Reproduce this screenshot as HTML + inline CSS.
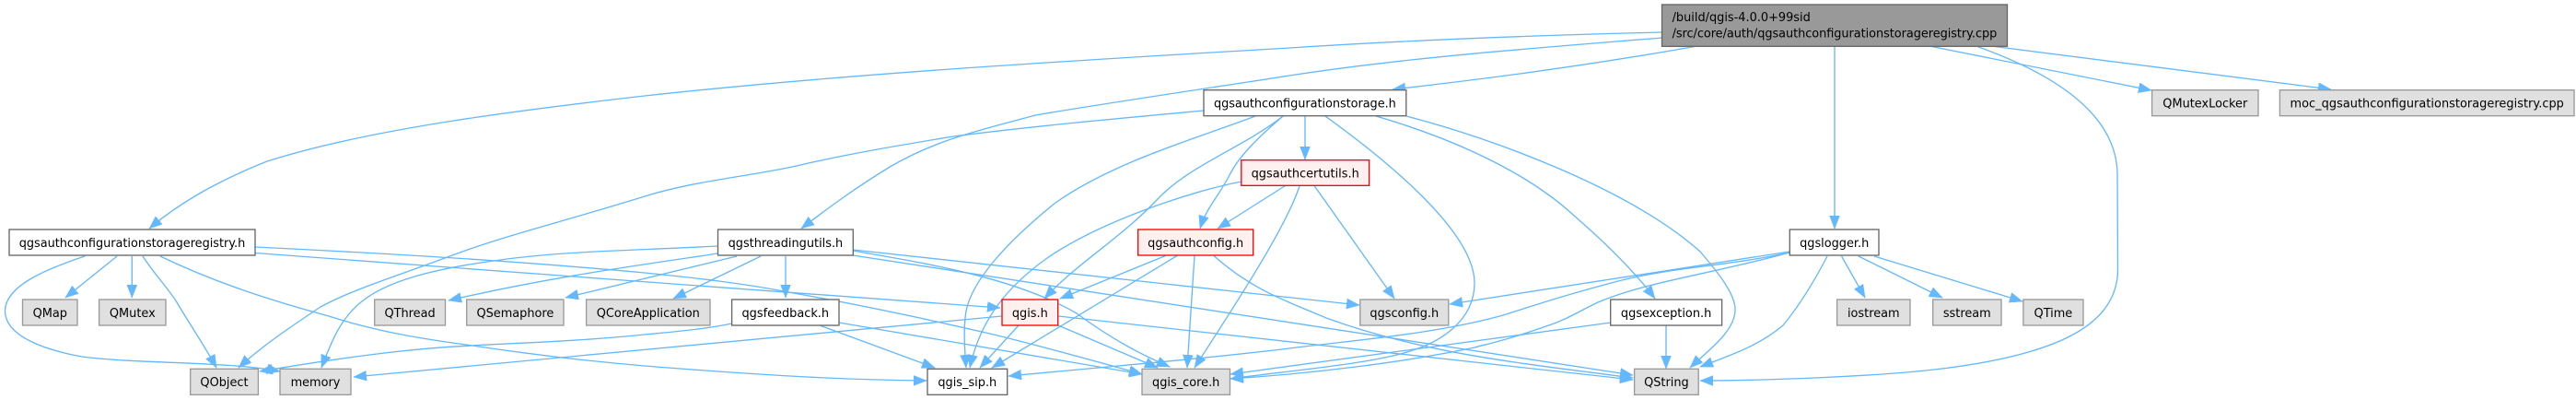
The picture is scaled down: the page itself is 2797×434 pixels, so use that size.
<!DOCTYPE html>
<html>
<head>
<meta charset="utf-8">
<style>
html,body{margin:0;padding:0;background:#fff;width:2797px;height:434px;overflow:hidden}
svg{display:block}
text{font-family:"DejaVu Sans","Liberation Sans",sans-serif;font-size:12.9px;fill:#000;text-anchor:middle}
.e path,.e line{fill:none;stroke:#63b8ff;stroke-width:1.33;marker-end:url(#a)}
.w{fill:#fff;stroke:#666;stroke-width:1.33}
.g{fill:#e0e0e0;stroke:#999;stroke-width:1.33}
.r{fill:#fff0f0;stroke:#f00;stroke-width:1.33}
.k{fill:#999;stroke:#666;stroke-width:1.33}
</style>
</head>
<body>
<svg width="2797" height="434" viewBox="0 0 2797 434" xmlns="http://www.w3.org/2000/svg">
<defs>
<marker id="a" markerUnits="userSpaceOnUse" markerWidth="16" markerHeight="12" refX="14" refY="5.5" orient="auto">
<path d="M0,0 L14,5.5 L0,11 Z" fill="#63b8ff" stroke="#63b8ff" stroke-width="0.5"/>
</marker>
</defs>

<g class="e">
<!-- root -->
<path d="M1804.5,35 C1680,38 1540,43 1400,52 C1160,66 920,80 700,104 C560,120 400,140 290,175 C235,197 195,220 162,248"/>
<path d="M1804.5,41 C1670,52 1530,62 1400,82 C1330,93 1200,112 1124,125 C1070,140 1020,150 968,180 C930,203 900,225 870,248"/>
<path d="M1840,50.5 C1730,70 1620,85 1512,97"/>
<path d="M1992,50.5 L1992,248"/>
<path d="M2095,50 L2336,98"/>
<path d="M2162,50 L2531,97"/>
<path d="M2147,50.5 C2210,73 2299,115 2299,190 L2299.5,293 C2299,350 2240,385 2100,401 C2040,408 1920,413 1846,413"/>
<!-- storage -->
<path d="M1307,120 C1220,128 1120,137 1035,148 C975,158 920,167 865,180 C810,192 755,196 700,213 C620,238 550,255 491,277 C430,300 385,313 348,333 C315,355 285,375 259,399"/>
<path d="M1363,126 C1300,150 1210,175 1146,220 C1090,265 1050,310 1048,345 C1046,365 1048,385 1049,399"/>
<path d="M1393,126 C1350,160 1290,180 1256,217 C1215,260 1170,285 1134,324"/>
<path d="M1393,126 C1365,150 1345,170 1335,190 C1322,215 1310,225 1303,248"/>
<path d="M1417,126 L1417,173"/>
<path d="M1439,126 C1500,170 1601,250 1601,307 C1601,350 1560,372 1534,380 C1490,395 1400,402 1336,411"/>
<path d="M1494,126 C1560,145 1650,180 1708,233 C1745,265 1775,295 1797,324"/>
<path d="M1527,126 C1620,150 1770,205 1846,273 C1865,295 1885,320 1884,337 C1883,360 1855,380 1835,399"/>
<!-- certutils -->
<path d="M1348,197 C1295,207 1195,240 1137,280 C1095,310 1065,345 1053,399"/>
<path d="M1395.5,201.5 L1322,248"/>
<path d="M1411,202 C1395,250 1335,340 1297,399"/>
<path d="M1427,201.5 L1514,324"/>
<!-- authconfig -->
<path d="M1265.5,277.5 L1151,324"/>
<path d="M1278,277.5 L1077,399"/>
<path d="M1297,277.5 L1289,399"/>
<path d="M1318,277.5 C1360,315 1400,328 1440,345 C1550,385 1660,395 1773,410"/>
<!-- registry -->
<path d="M92,278 C50,292 6,310 5.5,337 C5,365 50,380 89,387 C150,395 250,392 304,403"/>
<path d="M127,278 L71,323"/>
<path d="M143.3,278 L143.3,323"/>
<path d="M155,278 C168,298 182,312 192,328 C208,355 222,375 235,399"/>
<path d="M174,278 C230,305 290,325 357,343 C410,360 460,368 513,375 C580,385 640,392 700,397 C800,405 900,412 1006,413"/>
<path d="M277,268 C420,275 560,283 700,296 C760,302 810,308 856,317 C930,330 1010,347 1079,363 C1140,378 1190,392 1240,406"/>
<path d="M277,274.5 C500,292 850,316 1086,334"/>
<!-- threadingutils -->
<path d="M779,267 C690,272 610,272 536,283 C470,292 420,305 393,327 C370,345 360,370 349,399"/>
<path d="M779.5,275 C700,287 600,300 487,326"/>
<path d="M800,278 L614,323"/>
<path d="M826,278 L731,324"/>
<path d="M853,278 L853,323"/>
<path d="M926,271 L1476,331"/>
<path d="M926,272 C1000,285 1100,300 1169,340 C1210,370 1240,385 1270,398"/>
<path d="M926,277 L1773,407"/>
<!-- feedback -->
<path d="M795,351 C760,358 730,360 700,363 C620,371 560,372 513,375 C440,378 360,390 282,403"/>
<path d="M890,353 L1015,399"/>
<path d="M911,350 L1240,406"/>
<!-- qgis.h -->
<path d="M1088,343 L384,409"/>
<path d="M1106,353 L1064,399"/>
<path d="M1149,353 L1257,399"/>
<path d="M1149,343 L1773,412"/>
<!-- exception -->
<path d="M1809,353 L1809,400"/>
<path d="M1749,350 L1336,406"/>
<!-- logger -->
<path d="M1943,273 L1574,330"/>
<path d="M1943,274 C1880,288 1815,290 1757,305 C1700,320 1670,330 1632,342 C1560,362 1480,368 1400,378 C1300,390 1200,398 1095,408"/>
<path d="M1943,274 C1860,297 1790,305 1735,328 C1710,340 1710,342 1690,350 C1640,368 1620,372 1601,377 C1530,392 1430,405 1336,411"/>
<path d="M1984,278 C1970,305 1955,330 1936,353 C1910,375 1880,385 1846,398"/>
<path d="M1999.6,278 L2025,323"/>
<path d="M2018,278 L2109,323"/>
<path d="M2035,278 L2196,327"/>
</g>

<!-- root -->
<rect class="k" x="1804.5" y="5" width="375" height="45.3"/>
<text x="1815.6" y="23" style="text-anchor:start">/build/qgis-4.0.0+99sid</text>
<text x="1815.6" y="40.5" style="text-anchor:start" textLength="352.7">/src/core/auth/qgsauthconfigurationstorageregistry.cpp</text>

<!-- row 98-126 -->
<rect class="w" x="1307" y="97.7" width="219.8" height="28"/><text x="1416.9" y="116.5" textLength="197.8">qgsauthconfigurationstorage.h</text>
<rect class="g" x="2336.6" y="97.7" width="115.4" height="28"/><text x="2394.3" y="116.5">QMutexLocker</text>
<rect class="g" x="2475.4" y="97.7" width="319.6" height="28"/><text x="2635.2" y="116.5" textLength="297.3">moc_qgsauthconfigurationstorageregistry.cpp</text>

<!-- certutils -->
<rect class="r" x="1347.8" y="173.7" width="138.8" height="27.6"/><text x="1417.2" y="192.3">qgsauthcertutils.h</text>

<!-- row 249-277 -->
<rect class="w" x="10" y="249" width="267" height="28"/><text x="143.5" y="267.8" textLength="245.5">qgsauthconfigurationstorageregistry.h</text>
<rect class="w" x="779.5" y="249" width="146.8" height="28"/><text x="852.9" y="267.8">qgsthreadingutils.h</text>
<rect class="r" x="1235.7" y="249" width="125" height="28"/><text x="1298.2" y="267.8">qgsauthconfig.h</text>
<rect class="w" x="1943.3" y="249" width="96.7" height="28"/><text x="1991.7" y="267.8">qgslogger.h</text>

<!-- row 325-353 -->
<rect class="g" x="24.5" y="325" width="59.5" height="28"/><text x="54.3" y="343.8">QMap</text>
<rect class="g" x="107.6" y="325" width="72.4" height="28"/><text x="143.8" y="343.8">QMutex</text>
<rect class="g" x="406.7" y="325" width="76.8" height="28"/><text x="445.1" y="343.8">QThread</text>
<rect class="g" x="506.7" y="325" width="105.3" height="28"/><text x="559.4" y="343.8">QSemaphore</text>
<rect class="g" x="636.6" y="325" width="134.4" height="28"/><text x="703.8" y="343.8">QCoreApplication</text>
<rect class="w" x="794.6" y="325" width="116.4" height="28"/><text x="852.8" y="343.8">qgsfeedback.h</text>
<rect class="r" x="1088" y="325" width="60.7" height="28"/><text x="1118.3" y="343.8">qgis.h</text>
<rect class="g" x="1476.8" y="325" width="96" height="28"/><text x="1524.8" y="343.8">qgsconfig.h</text>
<rect class="w" x="1748.7" y="325" width="120.9" height="28"/><text x="1809.1" y="343.8">qgsexception.h</text>
<rect class="g" x="1994.6" y="325" width="79.4" height="28"/><text x="2034.3" y="343.8">iostream</text>
<rect class="g" x="2098.7" y="325" width="74.3" height="28"/><text x="2135.8" y="343.8">sstream</text>
<rect class="g" x="2196.9" y="325" width="65.1" height="28"/><text x="2229.4" y="343.8">QTime</text>

<!-- row 400-428 -->
<rect class="g" x="206.7" y="400.3" width="73.7" height="28"/><text x="243.5" y="419">QObject</text>
<rect class="g" x="304" y="400.3" width="77" height="28"/><text x="342.5" y="419">memory</text>
<rect class="w" x="1007" y="400.3" width="86.7" height="28"/><text x="1050.3" y="419">qgis_sip.h</text>
<rect class="g" x="1240" y="400.3" width="95.5" height="28"/><text x="1287.7" y="419">qgis_core.h</text>
<rect class="g" x="1774.6" y="400.3" width="69.6" height="28"/><text x="1809.4" y="419">QString</text>
</svg>
</body>
</html>
